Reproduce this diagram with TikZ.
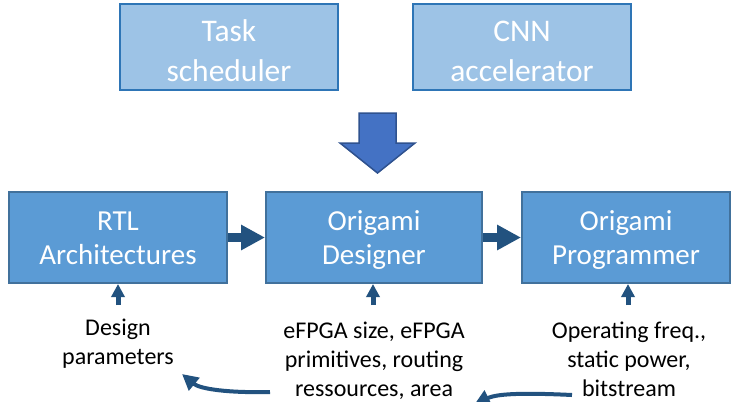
\documentclass[tikz,border=0pt]{standalone}
\usepackage{fontspec}
\setmainfont{Carlito}
\usetikzlibrary{arrows.meta}
\definecolor{topfill}{HTML}{9DC3E6}
\definecolor{topline}{HTML}{2E75B6}
\definecolor{boxfill}{HTML}{5B9BD5}
\definecolor{boxline}{HTML}{41719C}
\definecolor{arrowblue}{HTML}{22527F}
\definecolor{bigfill}{HTML}{4472C4}
\definecolor{bigline}{HTML}{2F528F}
\newcommand{\topfirst}{\rule{0pt}{37bp}}
\newcommand{\toplast}{\rule[-9bp]{0pt}{9bp}}
\newcommand{\boxfirst}{\rule{0pt}{28bp}}
\newcommand{\boxlast}{\rule[-8bp]{0pt}{8bp}}
\newcommand{\lblfirst}{\rule{0pt}{20bp}}
\newcommand{\lbllast}{\rule[-7bp]{0pt}{7bp}}
\tikzset{
  topbox/.style={draw=topline, line width=2.5bp, fill=topfill, text=white,
    minimum width=218bp, minimum height=84bp, align=center, inner sep=0pt,
    font=\fontsize{31.5bp}{40bp}\selectfont},
  mainbox/.style={draw=boxline, line width=2bp, fill=boxfill, text=white,
    minimum height=91bp, align=center, inner sep=0pt,
    font=\fontsize{29bp}{34.5bp}\selectfont},
  lbl/.style={align=center, inner sep=0pt, text=black,
    font=\fontsize{24bp}{29bp}\selectfont},
  thickarrow/.style={draw=arrowblue, line width=9bp,
    -{Triangle[length=24bp,width=24bp]}},
  smallarrow/.style={draw=arrowblue, line width=5bp,
    -{Triangle[length=13bp,width=13bp]}},
  curvearrow/.style={draw=arrowblue, line width=4bp,
    -{Triangle[length=16bp,width=16bp]}},
}
\begin{document}
\begin{tikzpicture}[x=1bp,y=-1bp]
\clip (0,0) rectangle (732,401);
\fill[white] (0,0) rectangle (732,401);
% top boxes
\node[topbox] (task) at (229,47) {\topfirst Task\\scheduler\toplast};
\node[topbox] (cnn) at (522,47) {\topfirst CNN\\accelerator\toplast};
% big down arrow
\filldraw[fill=bigfill, draw=bigline, line width=1.5bp, line join=miter]
  (359,113) -- (396,113) -- (396,143) -- (415,143) -- (377.5,173)
  -- (340,143) -- (359,143) -- cycle;
% main boxes
\node[mainbox, minimum width=218bp] (rtl) at (118,237.5) {\boxfirst RTL\\Architectures\boxlast};
\node[mainbox, minimum width=216bp] (des) at (374,237.5) {\boxfirst Origami\\Designer\boxlast};
\node[mainbox, minimum width=208bp] (prog) at (626,237.5) {\boxfirst Origami\\Programmer\boxlast};
% thick arrows
\draw[thickarrow] (rtl.east) -- (des.west);
\draw[thickarrow] (des.east) -- (prog.west);
% labels
\node[lbl] (dp) at (118,343) {\lblfirst Design\\parameters\lbllast};
\node[lbl] (ef) at (374,360.5) {\lblfirst eFPGA size, eFPGA\\primitives, routing\\ressources, area\lbllast};
\node[lbl] (op) at (629,360.5) {\lblfirst Operating freq.,\\static power,\\bitstream\lbllast};
% small up arrows
\coordinate (rtlin) at (118,305);
\coordinate (desin) at (373,305);
\coordinate (progin) at (628,305);
\draw[smallarrow] (rtlin) -- (rtl.south);
\draw[smallarrow] (desin) -- (des.south -| desin);
\draw[smallarrow] (progin) -- (prog.south -| progin);
% curved arrows
\coordinate (c1s) at (270,392);
\coordinate (c1e) at (182,374);
\coordinate (c2s) at (572,395);
\coordinate (c2e) at (474,405);
\draw[curvearrow] (c1s) .. controls (228,393) and (200,389) .. (c1e);
\draw[curvearrow] (c2s) .. controls (530,393) and (498,393) .. (c2e);
\end{tikzpicture}
\end{document}
